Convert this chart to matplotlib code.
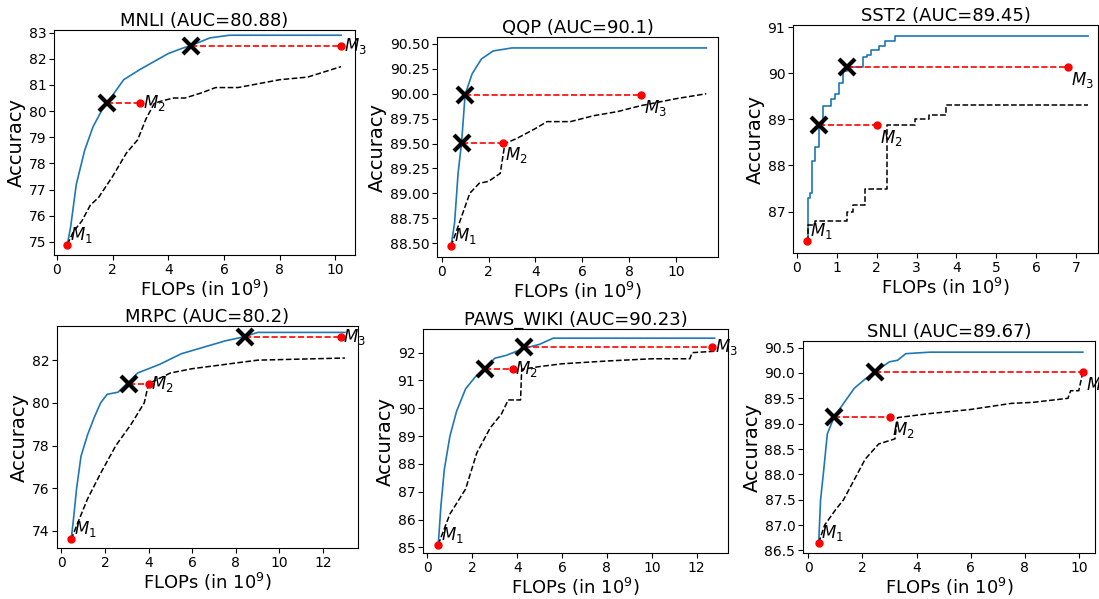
import matplotlib.pyplot as plt
from matplotlib.ticker import MultipleLocator

# (title, blue curve, black dashed curve, red points M1..M3, cross x positions)
titles = ["MNLI (AUC=80.88)", "QQP (AUC=90.1)", "SST2 (AUC=89.45)",
          "MRPC (AUC=80.2)", "PAWS_WIKI (AUC=90.23)", "SNLI (AUC=89.67)"]

mnli_blue_x = [0.38, 0.5, 0.7, 1.0, 1.3, 1.6, 1.8, 2.0, 2.4, 3.0, 3.5, 4.0, 4.5, 4.8, 5.5, 6.2, 10.2]
mnli_blue_y = [74.9, 75.6, 77.2, 78.5, 79.4, 80.0, 80.3, 80.6, 81.2, 81.6, 81.9, 82.2, 82.4, 82.5, 82.8, 82.9, 82.9]
mnli_base_x = [0.38, 0.6, 0.9, 1.2, 1.5, 2.0, 2.5, 2.9, 3.2, 3.5, 3.8, 4.2, 4.6, 5.2, 5.7, 6.5, 7.0, 8.0, 9.0, 9.6, 10.2]
mnli_base_y = [74.9, 75.4, 75.8, 76.4, 76.7, 77.5, 78.4, 78.9, 79.7, 80.3, 80.4, 80.5, 80.5, 80.7, 80.9, 80.9, 81.0, 81.2, 81.3, 81.5, 81.7]
mnli_pts_x = [0.38, 3.0, 10.2]
mnli_pts_y = [74.9, 80.3, 82.5]
mnli_cross_x = [1.8, 4.8]

qqp_blue_x = [0.4, 0.55, 0.7, 0.85, 1.0, 1.3, 1.7, 2.2, 3.0, 11.3]
qqp_blue_y = [88.47, 88.7, 89.2, 89.51, 89.99, 90.2, 90.35, 90.43, 90.46, 90.46]
qqp_base_x = [0.4, 0.6, 0.9, 1.2, 1.6, 2.0, 2.5, 2.7, 3.2, 4.0, 4.5, 5.5, 6.5, 7.5, 8.5, 10.0, 11.3]
qqp_base_y = [88.47, 88.6, 88.8, 89.0, 89.1, 89.12, 89.2, 89.5, 89.55, 89.65, 89.72, 89.72, 89.78, 89.82, 89.88, 89.95, 90.0]
qqp_pts_x = [0.4, 2.6, 8.5]
qqp_pts_y = [88.47, 89.51, 89.99]
qqp_cross_x = [0.85, 1.0]

sst2_blue_x = [0.25, 0.28, 0.32, 0.38, 0.45, 0.55, 0.65, 0.85, 0.95, 1.05, 1.15, 1.25, 1.65, 1.75, 1.85, 2.05, 2.2, 2.45, 7.3]
sst2_blue_y = [86.35, 87.3, 87.4, 88.1, 88.4, 88.87, 89.3, 89.45, 89.55, 89.8, 90.05, 90.14, 90.35, 90.4, 90.5, 90.6, 90.7, 90.82, 90.82]
sst2_base_x = [0.25, 0.27, 0.45, 1.25, 1.4, 1.7, 2.25, 2.95, 3.3, 3.75, 7.3]
sst2_base_y = [86.35, 86.7, 86.8, 87.0, 87.15, 87.5, 88.87, 89.0, 89.1, 89.32, 89.32]
sst2_pts_x = [0.25, 2.0, 6.8]
sst2_pts_y = [86.35, 88.87, 90.14]
sst2_cross_x = [0.55, 1.25]

mrpc_blue_x = [0.45, 0.55, 0.7, 0.9, 1.2, 1.5, 1.8, 2.1, 2.6, 3.1, 3.5, 4.5, 5.5, 6.5, 7.5, 8.4, 9.0, 13.0]
mrpc_blue_y = [73.6, 74.5, 76.0, 77.5, 78.5, 79.3, 80.0, 80.4, 80.5, 81.0, 81.4, 81.8, 82.3, 82.6, 82.9, 83.1, 83.3, 83.3]
mrpc_base_x = [0.45, 0.8, 1.2, 1.8, 2.5, 3.2, 3.8, 4.0, 5.0, 6.0, 7.5, 9.0, 13.0]
mrpc_base_y = [73.6, 74.5, 75.5, 76.7, 78.0, 79.0, 80.0, 80.9, 81.4, 81.6, 81.8, 82.0, 82.1]
mrpc_pts_x = [0.45, 4.0, 12.8]
mrpc_pts_y = [73.6, 80.9, 83.1]
mrpc_cross_x = [3.1, 8.4]

paws_blue_x = [0.48, 0.6, 0.75, 1.0, 1.3, 1.7, 2.1, 2.55, 3.0, 3.5, 4.3, 5.0, 5.6, 12.8]
paws_blue_y = [85.1, 86.5, 87.8, 89.0, 89.9, 90.7, 91.1, 91.42, 91.8, 91.9, 92.15, 92.3, 92.52, 92.52]
paws_base_x = [0.48, 1.0, 1.7, 2.2, 2.8, 3.3, 3.6, 4.15, 4.2, 5.0, 6.0, 8.0, 10.0, 11.7, 11.8, 12.8]
paws_base_y = [85.1, 86.2, 87.1, 88.4, 89.3, 89.8, 90.3, 90.3, 91.4, 91.5, 91.6, 91.7, 91.78, 91.78, 92.0, 92.05]
paws_pts_x = [0.48, 3.8, 12.7]
paws_pts_y = [85.1, 91.42, 92.2]
paws_cross_x = [2.55, 4.3]

snli_blue_x = [0.38, 0.45, 0.55, 0.7, 0.95, 1.3, 1.7, 2.1, 2.45, 3.0, 3.3, 3.6, 4.5, 10.15]
snli_blue_y = [86.65, 87.5, 88.0, 88.8, 89.13, 89.4, 89.7, 89.88, 90.02, 90.22, 90.25, 90.38, 90.41, 90.41]
snli_base_x = [0.38, 0.6, 1.0, 1.3, 1.6, 2.1, 2.6, 3.2, 3.3, 4.5, 6.0, 7.5, 8.3, 9.6, 9.7, 10.0, 10.15]
snli_base_y = [86.65, 87.0, 87.3, 87.5, 87.8, 88.3, 88.6, 88.7, 89.12, 89.2, 89.28, 89.4, 89.42, 89.5, 89.65, 89.65, 90.02]
snli_pts_x = [0.38, 3.0, 10.15]
snli_pts_y = [86.65, 89.13, 90.02]
snli_cross_x = [0.95, 2.45]

panels = [
    (mnli_blue_x, mnli_blue_y, mnli_base_x, mnli_base_y, mnli_pts_x, mnli_pts_y, mnli_cross_x),
    (qqp_blue_x, qqp_blue_y, qqp_base_x, qqp_base_y, qqp_pts_x, qqp_pts_y, qqp_cross_x),
    (sst2_blue_x, sst2_blue_y, sst2_base_x, sst2_base_y, sst2_pts_x, sst2_pts_y, sst2_cross_x),
    (mrpc_blue_x, mrpc_blue_y, mrpc_base_x, mrpc_base_y, mrpc_pts_x, mrpc_pts_y, mrpc_cross_x),
    (paws_blue_x, paws_blue_y, paws_base_x, paws_base_y, paws_pts_x, paws_pts_y, paws_cross_x),
    (snli_blue_x, snli_blue_y, snli_base_x, snli_base_y, snli_pts_x, snli_pts_y, snli_cross_x),
]

# layout (pixels: left, right, top, bottom) and axis ranges
W, H = 1099, 599
boxes = [(54, 355, 30, 255), (437, 718, 37, 257), (793, 1098, 25, 253),
         (57, 358, 326, 548), (423, 728, 329, 553), (803, 1095, 341, 553)]
xlims = [(-0.1, 10.7), (-0.2, 11.8), (-0.1, 7.55), (-0.2, 13.6), (-0.2, 13.4), (-0.2, 10.6)]
ylims = [(74.5, 83.1), (88.36, 90.57), (86.1, 91.05), (73.2, 83.6), (84.8, 92.85), (86.45, 90.63)]
xsteps = [2, 2, 1, 2, 2, 2]
ysteps = [1, 0.25, 1, 2, 1, 0.5]
yfmt = ['{x:.0f}', '{x:.2f}', '{x:.0f}', '{x:.0f}', '{x:.0f}', '{x:.1f}']
steps = [False, False, True, False, False, False]
below = [False, True, True, False, False, True]  # M2/M3 labels sit below the point

fig = plt.figure(figsize=(W / 100, H / 100), dpi=100)
for i, (bx, by, kx, ky, px, py, cx) in enumerate(panels):
    l, r, t, b = boxes[i]
    ax = fig.add_axes([l / W, 1 - b / H, (r - l) / W, (b - t) / H])
    ds = 'steps-post' if steps[i] else 'default'
    ax.plot(bx, by, color='tab:blue', linewidth=1.2, drawstyle=ds)
    ax.plot(kx, ky, 'k--', linewidth=1.1, drawstyle=ds)
    for j in range(2):
        ax.plot([cx[j], px[j + 1]], [py[j + 1], py[j + 1]], 'r--', linewidth=1.2)
    ax.plot(px, py, 'o', color='red', markersize=5)
    ax.plot(cx, py[1:], 'x', color='black', markersize=11, markeredgewidth=3)
    for j in range(3):
        if j > 0 and below[i]:
            ax.annotate(f"$M_{j + 1}$", (px[j], py[j]), xytext=(2, -2), textcoords='offset points',
                        fontsize=12, va='top')
        else:
            ax.annotate(f"$M_{j + 1}$", (px[j], py[j]), xytext=(2, 0), textcoords='offset points',
                        fontsize=12, va='bottom' if j == 0 else 'center')
    ax.set_xlim(*xlims[i])
    ax.set_ylim(*ylims[i])
    ax.xaxis.set_major_locator(MultipleLocator(xsteps[i]))
    ax.yaxis.set_major_locator(MultipleLocator(ysteps[i]))
    ax.yaxis.set_major_formatter(yfmt[i])
    ax.set_title(titles[i], fontsize=13, pad=3)
    ax.set_xlabel("FLOPs (in $10^9$)", fontsize=13, labelpad=1)
    ax.set_ylabel("Accuracy", fontsize=14, labelpad=2)
    ax.tick_params(labelsize=10, pad=2)

fig.savefig("out.png", dpi=100)
